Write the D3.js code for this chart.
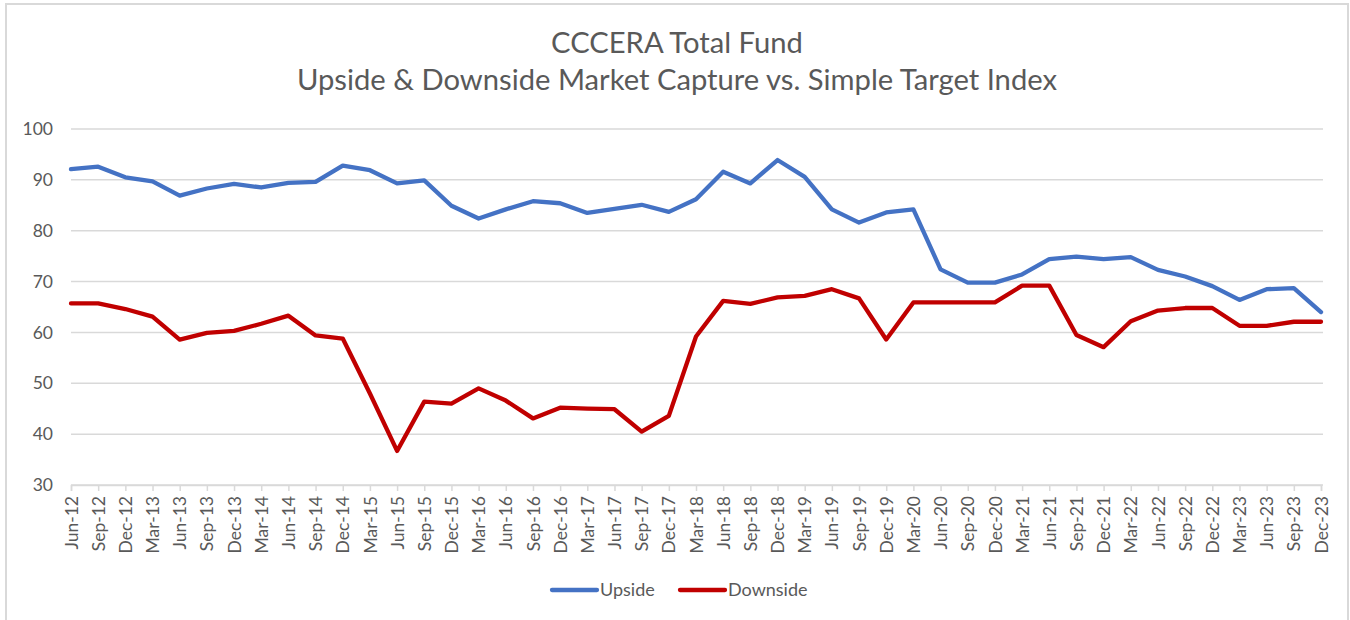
<!DOCTYPE html>
<html>
<head>
<meta charset="utf-8">
<title>CCCERA Total Fund</title>
<script src="https://d3js.org/d3.v7.min.js"></script>
<style>
  body { margin: 0; background: #fff; }
  svg text { font-family: Lato, "Liberation Sans", sans-serif; fill: #595959; }
</style>
</head>
<body>
<div id="chart"></div>
<script>
// quarterly categories
var categories = [
  "Jun-12","Sep-12","Dec-12",
  "Mar-13","Jun-13","Sep-13","Dec-13",
  "Mar-14","Jun-14","Sep-14","Dec-14",
  "Mar-15","Jun-15","Sep-15","Dec-15",
  "Mar-16","Jun-16","Sep-16","Dec-16",
  "Mar-17","Jun-17","Sep-17","Dec-17",
  "Mar-18","Jun-18","Sep-18","Dec-18",
  "Mar-19","Jun-19","Sep-19","Dec-19",
  "Mar-20","Jun-20","Sep-20","Dec-20",
  "Mar-21","Jun-21","Sep-21","Dec-21",
  "Mar-22","Jun-22","Sep-22","Dec-22",
  "Mar-23","Jun-23","Sep-23","Dec-23"
];

var upside = [
  92.1, 92.6, 90.5,
  89.7, 86.9, 88.3, 89.2,
  88.5, 89.4, 89.6, 92.8,
  91.9, 89.3, 89.9, 84.9,
  82.4, 84.2, 85.8, 85.4,
  83.5, 84.3, 85.1, 83.7,
  86.2, 91.6, 89.3, 93.9,
  90.6, 84.2, 81.6, 83.6,
  84.2, 72.4, 69.8, 69.8,
  71.4, 74.4, 74.9, 74.4,
  74.8, 72.3, 71.0, 69.1,
  66.4, 68.5, 68.7, 64.0
];

var downside = [
  65.7, 65.7, 64.6,
  63.1, 58.6, 59.9, 60.3,
  61.7, 63.3, 59.4, 58.8,
  48.0, 36.7, 46.4, 46.0,
  49.0, 46.6, 43.1, 45.2,
  45.0, 44.9, 40.5, 43.6,
  59.2, 66.2, 65.6, 66.9,
  67.2, 68.5, 66.7, 58.6,
  65.9, 65.9, 65.9, 65.9,
  69.2, 69.2, 59.5, 57.1,
  62.2, 64.3, 64.8, 64.8,
  61.3, 61.3, 62.1, 62.1
];

var yTicks = [30, 40, 50, 60, 70, 80, 90, 100];

var series = [
  { name: "Upside", values: upside, color: "#4472C4" },
  { name: "Downside", values: downside, color: "#C00000" }
];

var W = 1350, H = 620;
var svg = d3.select("#chart").append("svg")
  .attr("width", W).attr("height", H);

// chart border
svg.append("rect")
  .attr("x", 6).attr("y", 4)
  .attr("width", 1342).attr("height", 640)
  .attr("fill", "#fff")
  .attr("stroke", "#d9d9d9").attr("stroke-width", 2);

// title
var title = svg.append("text")
  .attr("text-anchor", "middle")
  .attr("font-size", 29.2);
title.append("tspan").attr("x", 677).attr("y", 53).text("CCCERA Total Fund");
title.append("tspan").attr("x", 677).attr("y", 90).text("Upside & Downside Market Capture vs. Simple Target Index");

var x = d3.scalePoint().domain(categories).range([71, 1321]);
var y = d3.scaleLinear().domain([30, 100]).range([485, 129]);

// gridlines
svg.append("g")
  .selectAll("line")
  .data(yTicks)
  .enter().append("line")
  .attr("x1", 71).attr("x2", 1323)
  .attr("y1", function(d) { return y(d); })
  .attr("y2", function(d) { return y(d); })
  .attr("stroke", "#d9d9d9").attr("stroke-width", 1.5);

// y axis labels
var yAxis = svg.append("g")
  .attr("transform", "translate(71,0)")
  .call(d3.axisLeft(y).tickValues(yTicks).tickSize(0).tickPadding(18));
yAxis.select(".domain").remove();
yAxis.selectAll("text").attr("font-size", 17.5).attr("fill", "#595959")
  .attr("font-family", "Lato, 'Liberation Sans', sans-serif");

// x axis
var xAxis = svg.append("g")
  .attr("transform", "translate(0," + y(30) + ")")
  .call(d3.axisBottom(x).tickSize(6).tickPadding(5));
xAxis.select(".domain").attr("stroke", "#d9d9d9").attr("stroke-width", 1.5);
xAxis.selectAll(".tick line").attr("stroke", "#d9d9d9").attr("stroke-width", 1.5);
xAxis.selectAll("text")
  .attr("font-size", 17.5)
  .attr("fill", "#595959")
  .attr("font-family", "Lato, 'Liberation Sans', sans-serif")
  .attr("transform", "rotate(-90)")
  .attr("text-anchor", "end")
  .attr("x", -11).attr("y", 0).attr("dy", "0.35em");

// lines
var line = d3.line()
  .x(function(d, i) { return x(categories[i]); })
  .y(function(d) { return y(d); });

svg.append("g")
  .selectAll("path")
  .data(series)
  .enter().append("path")
  .attr("d", function(s) { return line(s.values); })
  .attr("fill", "none")
  .attr("stroke", function(s) { return s.color; })
  .attr("stroke-width", 4.3)
  .attr("stroke-linejoin", "round")
  .attr("stroke-linecap", "round");

// legend
var legendX = [552, 680];
var legend = svg.append("g")
  .selectAll("g")
  .data(series)
  .enter().append("g")
  .attr("transform", function(s, i) { return "translate(" + legendX[i] + ",590)"; });
legend.append("line")
  .attr("x1", 0).attr("x2", 45)
  .attr("stroke", function(s) { return s.color; })
  .attr("stroke-width", 4.3).attr("stroke-linecap", "round");
legend.append("text")
  .attr("x", 48).attr("dy", "0.35em")
  .attr("font-size", 18)
  .text(function(s) { return s.name; });
</script>
</body>
</html>
